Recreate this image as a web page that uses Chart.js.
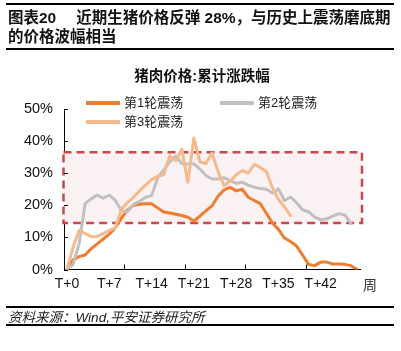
<!DOCTYPE html>
<html><head><meta charset="utf-8">
<script src="https://cdn.jsdelivr.net/npm/chart.js@4.4.1/dist/chart.umd.min.js"></script>
<style>
html,body{margin:0;padding:0;background:#fff;}
body{width:401px;height:351px;position:relative;overflow:hidden;font-family:"Liberation Sans","Noto Sans CJK SC",sans-serif;color:#111;}
.abs{position:absolute;white-space:nowrap;}
.rule{position:absolute;left:6px;width:388px;background:#000;}
#c{position:absolute;left:0;top:0;}
.lg{position:absolute;height:4px;width:34px;}
</style></head><body>
<canvas id="c" width="401" height="351"></canvas>
<div class="rule" style="top:3px;height:2px"></div>
<div class="abs" style="left:8px;top:8px;font-size:15.5px;font-weight:bold;line-height:20px"><span>图表20</span><span style="margin-left:20px">近期生猪价格反弹 28%，与历史上震荡磨底期</span></div>
<div class="abs" style="left:8px;top:27px;font-size:15.5px;font-weight:bold;line-height:20px">的价格波幅相当</div>
<div class="rule" style="top:48px;height:1.5px"></div>
<div class="abs" style="left:0;width:401px;text-align:center;top:66px;font-size:14.5px;font-weight:bold;line-height:20px;padding-left:3px;box-sizing:border-box">猪肉价格:累计涨跌幅</div>
<div class="lg" style="left:86px;top:101px;background:#ED7D31"></div>
<div class="abs" style="left:124px;top:94px;font-size:13px;line-height:18px;color:#222">第1轮震荡</div>
<div class="lg" style="left:220px;top:101px;background:#C0C0C0"></div>
<div class="abs" style="left:258px;top:94px;font-size:13px;line-height:18px;color:#222">第2轮震荡</div>
<div class="lg" style="left:86px;top:120px;background:#F6B98C"></div>
<div class="abs" style="left:124px;top:113px;font-size:13px;line-height:18px;color:#222">第3轮震荡</div>
<div class="abs" style="left:363px;top:276px;font-size:14px;line-height:18px;color:#333">周</div>
<div class="rule" style="top:306px;height:1.5px"></div>
<div class="abs" style="left:8px;top:309px;font-size:13.5px;font-style:italic;line-height:18px;color:#222">资料来源：Wind,平安证券研究所</div>
<div class="rule" style="top:324px;height:1.5px"></div>
<script>
const weeks = ['T+0','T+1','T+2','T+3','T+4','T+5','T+6','T+7','T+8','T+9','T+10','T+11','T+12','T+13','T+14','T+15','T+16','T+17','T+18','T+19','T+20','T+21','T+22','T+23','T+24','T+25','T+26','T+27','T+28','T+29','T+30','T+31','T+32','T+33','T+34','T+35','T+36','T+37','T+38','T+39','T+40','T+41','T+42','T+43','T+44','T+45','T+46','T+47','T+48'];
const round1 = [0,3,4,4.5,6.5,8,9.5,11,13,16,18.5,20,20.3,20.5,20.5,19.2,17.9,17.6,17.2,16.8,16.3,15.1,16.6,18.3,19.8,22.8,24.8,25.6,24.5,25,22.5,21.5,20.5,17.5,14.5,12.5,9.8,8.7,7.3,4.5,1.6,1.2,2.3,2.3,1.7,1.7,1.6,1.2,0];
const round2 = [0,1.5,8,20.5,22,23.2,22.2,23.2,21.5,18.3,18,20.3,21.2,22.5,23,28.5,31,33.5,35.3,33,32.9,32.9,31.3,29.3,28.2,28.2,28.6,27.7,26.8,27.2,26.3,25.6,25.2,25,23.8,25.1,21.5,22.6,20.8,18.6,18,16.3,15.5,15.8,16.6,17.4,17,14.3];
const round3 = [0,7,12.2,11.2,10.2,10.3,11.2,12.2,13,18.8,20.8,22.5,24.5,26.3,28,29,29.5,35.4,33.9,37.5,27.2,41,33.5,33,36.3,30.5,26.2,27.5,29.5,30.8,30,32.8,31.8,30.5,25.5,21.8,19.5,16.8];
const seriesNames = ['第1轮震荡','第2轮震荡','第3轮震荡'];
const yTicks = [0,10,20,30,40,50];
const xLabelEvery = 7;
const xTickEvery = 10;
const bandLow = 14.5, bandHigh = 36.5;

const FONT = "'Liberation Sans','Noto Sans CJK SC',sans-serif";

const bandPlugin = {
  id: 'band',
  beforeDatasetsDraw(chart) {
    const {ctx, chartArea: a, scales: {y}} = chart;
    const top = y.getPixelForValue(bandHigh), bot = y.getPixelForValue(bandLow);
    const l = a.left - 0.5, r = a.right + 2;
    ctx.save();
    ctx.fillStyle = '#FAF1F3';
    ctx.fillRect(l, top, r - l, bot - top);
    ctx.setLineDash([8, 5]);
    ctx.strokeStyle = '#C9484B';
    ctx.lineWidth = 2.5;
    ctx.strokeRect(l, top, r - l, bot - top);
    ctx.restore();
  },
  afterDraw(chart) {
    const {ctx, chartArea: a, scales: {x, y}} = chart;
    ctx.save();
    ctx.strokeStyle = '#000';
    ctx.lineWidth = 1;
    ctx.beginPath();
    yTicks.forEach(v => {
      const py = Math.round(y.getPixelForValue(v)) + 0.5;
      ctx.moveTo(a.left, py); ctx.lineTo(a.left + 4, py);
    });
    for (let i = xTickEvery; i < weeks.length; i += xTickEvery) {
      const px = Math.round((x.getPixelForValue(i - 1) + x.getPixelForValue(i)) / 2) + 0.5;
      ctx.moveTo(px, a.bottom); ctx.lineTo(px, a.bottom - 5);
    }
    ctx.stroke();
    ctx.restore();
  }
};

new Chart(document.getElementById('c'), {
  type: 'line',
  data: {
    labels: weeks,
    datasets: [
      {label: seriesNames[0], data: round1, borderColor: '#ED7D31', order: 2},
      {label: seriesNames[1], data: round2, borderColor: '#C0C0C0', order: 1},
      {label: seriesNames[2], data: round3, borderColor: '#F6B98C', order: 0}
    ]
  },
  options: {
    responsive: false,
    animation: false,
    devicePixelRatio: 1,
    layout: {padding: {left: 0, top: 109, right: 41, bottom: 0}},
    elements: {
      line: {borderWidth: 3, tension: 0, borderJoinStyle: 'round', borderCapStyle: 'round', fill: false},
      point: {radius: 0, hoverRadius: 0}
    },
    plugins: {legend: {display: false}, title: {display: false}, tooltip: {enabled: false}},
    scales: {
      x: {
        type: 'category',
        offset: true,
        afterFit(s) { s.height = 81.5; },
        grid: {display: true, drawOnChartArea: false, drawTicks: false},
        border: {display: true, color: '#000', width: 1},
        ticks: {
          autoSkip: false, maxRotation: 0, padding: 6, color: '#111',
          font: {family: FONT, size: 14},
          callback(v, i) { return (i % xLabelEvery === 0 && i <= 42) ? weeks[i] : ''; }
        }
      },
      y: {
        min: 0, max: 50,
        afterFit(s) { s.width = 64; },
        grid: {display: true, drawOnChartArea: false, drawTicks: false},
        border: {display: true, color: '#000', width: 1},
        afterBuildTicks(s) { s.ticks = yTicks.map(v => ({value: v})); },
        ticks: {
          padding: 11, color: '#111',
          font: {family: FONT, size: 14.5},
          callback(v) { return v + '%'; }
        }
      }
    }
  },
  plugins: [bandPlugin]
});
</script>
</body></html>
